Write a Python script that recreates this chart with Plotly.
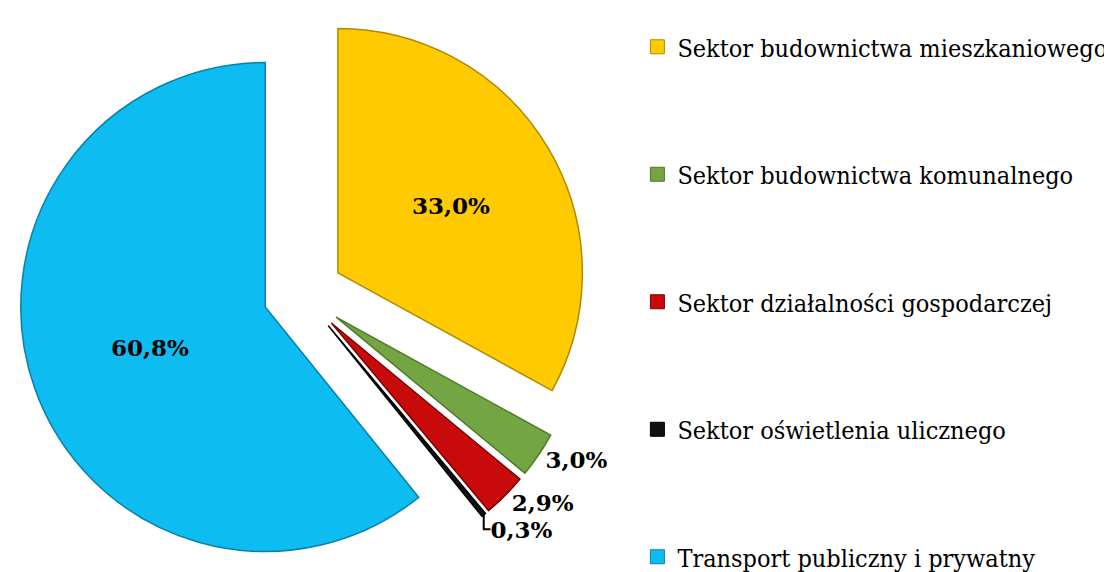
import plotly.graph_objects as go

# data
categories = [
    "Sektor budownictwa mieszkaniowego",
    "Sektor budownictwa komunalnego",
    "Sektor działalności gospodarczej",
    "Sektor oświetlenia ulicznego",
    "Transport publiczny i prywatny",
]
shares = [33.0, 3.0, 2.9, 0.3, 60.8]

colors = ["#FFCA00", "#73A543", "#C80A0A", "#111111", "#0DBDF2"]
edge_colors = ["#B08A00", "#4E7A2A", "#7A0000", "#000000", "#0A7FA8"]

fig = go.Figure()

fig.add_trace(go.Pie(
    labels=categories,
    values=shares,
    sort=False,
    direction="clockwise",
    rotation=0,
    pull=[0.17, 0.17, 0.17, 0.17, 0.16],
    marker=dict(colors=colors, line=dict(color=edge_colors, width=1.5)),
    texttemplate="%{value:.1f}%",
    textposition=["inside", "outside", "outside", "outside", "inside"],
    textfont=dict(family="DejaVu Serif", size=23, color="black", weight="bold"),
    insidetextorientation="horizontal",
    domain=dict(x=[0, 0.529], y=[0, 1]),
    showlegend=False,
    hoverinfo="label+percent",
))

# legend entries (one group each so they can be spaced out)
for name, col, edge in zip(categories, colors, edge_colors):
    fig.add_trace(go.Scatter(
        x=[None], y=[None],
        mode="markers",
        name=name,
        legendgroup=name,
        marker=dict(symbol="square", size=14, color=col, line=dict(color=edge, width=1)),
    ))

fig.update_layout(
    width=1112,
    height=572,
    margin=dict(l=0, r=0, t=0, b=0, autoexpand=False),
    paper_bgcolor="white",
    plot_bgcolor="white",
    separators=", ",
    xaxis=dict(visible=False),
    yaxis=dict(visible=False),
    legend=dict(
        x=0.566, y=0.972, xanchor="left", yanchor="top",
        font=dict(family="DejaVu Serif Condensed, DejaVu Serif", size=25, color="black"),
        tracegroupgap=92,
        itemclick=False,
        itemdoubleclick=False,
    ),
)

fig.write_html("out.html")
